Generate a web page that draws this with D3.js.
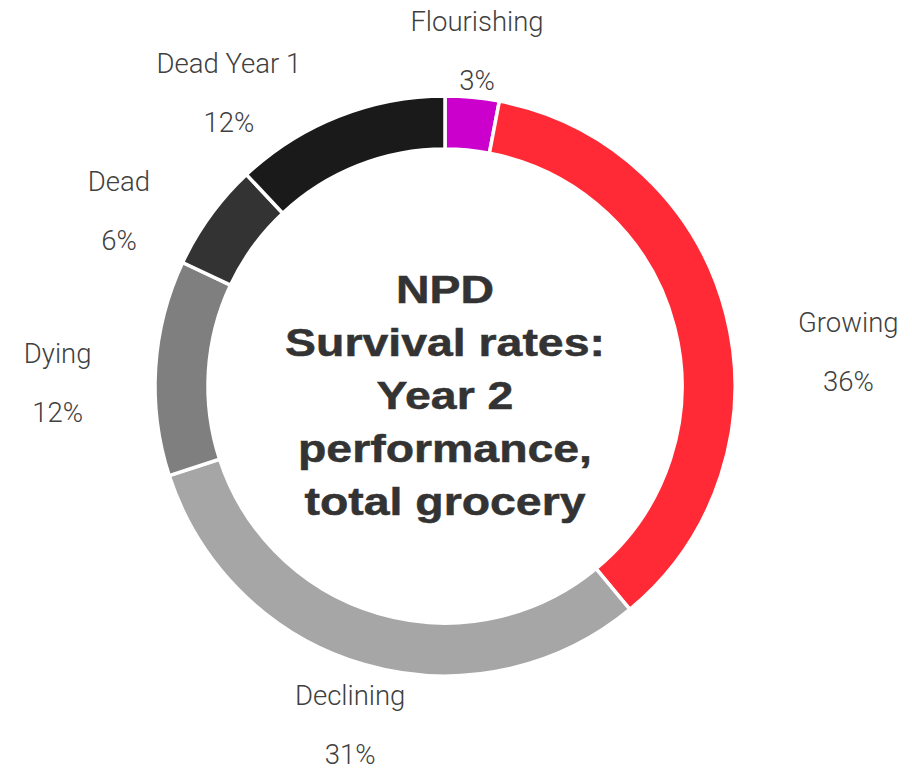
<!DOCTYPE html>
<html>
<head>
<meta charset="utf-8">
<script src="https://cdn.jsdelivr.net/npm/d3@7"></script>
<style>
  body { margin: 0; background: #fff; }
  svg { display: block; }
</style>
</head>
<body>
<svg width="912" height="768"></svg>
<script>
// data
var categories = ["Flourishing", "Growing", "Declining", "Dying", "Dead", "Dead Year 1"];
var shares = [3, 36, 31, 12, 6, 12];
var colours = ["#cc00cc", "#ff2a35", "#a6a6a6", "#7f7f7f", "#333333", "#1a1a1a"];
var titleLines = ["NPD", "Survival rates:", "Year 2", "performance,", "total grocery"];

var svg = d3.select("svg"),
    width = +svg.attr("width"),
    height = +svg.attr("height");

var cx = 445, cy = 386,
    outerR = 290, innerR = 237;

// label nudges away from the centroid of the label ring (layout only)
var labelNudge = [[0, 13], [74, 60], [0, 22], [-48, 28], [-51, 34], [-91, 33]];

var slices = categories.map(function(c, i) {
  return { name: c, value: shares[i], colour: colours[i], i: i };
});

var pie = d3.pie()
    .sort(null)
    .value(function(d) { return d.value; });

var arc = d3.arc()
    .innerRadius(innerR)
    .outerRadius(outerR);

var labelArc = d3.arc()
    .innerRadius(340)
    .outerRadius(340);

var g = svg.append("g")
    .attr("transform", "translate(" + cx + "," + cy + ")");

var arcs = pie(slices);

g.selectAll("path.slice")
    .data(arcs)
  .enter().append("path")
    .attr("class", "slice")
    .attr("d", arc)
    .attr("fill", function(d) { return d.data.colour; })
    .attr("stroke", "#fff")
    .attr("stroke-width", 3.5)
    .attr("stroke-linejoin", "miter");

var labels = g.selectAll("g.label")
    .data(arcs)
  .enter().append("g")
    .attr("class", "label")
    .attr("transform", function(d) {
      var c = labelArc.centroid(d),
          n = labelNudge[d.data.i];
      return "translate(" + (c[0] + n[0]) + "," + (c[1] + n[1]) + ")";
    })
    .style("font-family", "Roboto, 'Liberation Sans', sans-serif")
    .style("font-weight", 300)
    .style("font-size", "27.5px")
    .attr("fill", "#404040")
    .attr("text-anchor", "middle");

labels.append("text")
    .attr("y", -29.5)
    .text(function(d) { return d.data.name; });

labels.append("text")
    .attr("y", 29.5)
    .text(function(d) { return d3.format(".0%")(d.data.value / d3.sum(shares)); });

// centre title, a little stretched sideways like the source
var title = svg.append("g")
    .attr("transform", "translate(" + cx + ",0) scale(1.19,1)")
    .append("text")
    .attr("text-anchor", "middle")
    .style("font-family", "'Liberation Sans', Arial, sans-serif")
    .style("font-weight", "bold")
    .style("font-size", "39px")
    .attr("fill", "#333333")
    .attr("stroke", "#333333")
    .attr("stroke-width", 0.5);

title.selectAll("tspan")
    .data(titleLines)
  .enter().append("tspan")
    .attr("x", 0)
    .attr("y", function(d, i) { return 303 + i * 53; })
    .text(function(d) { return d; });
</script>
</body>
</html>
